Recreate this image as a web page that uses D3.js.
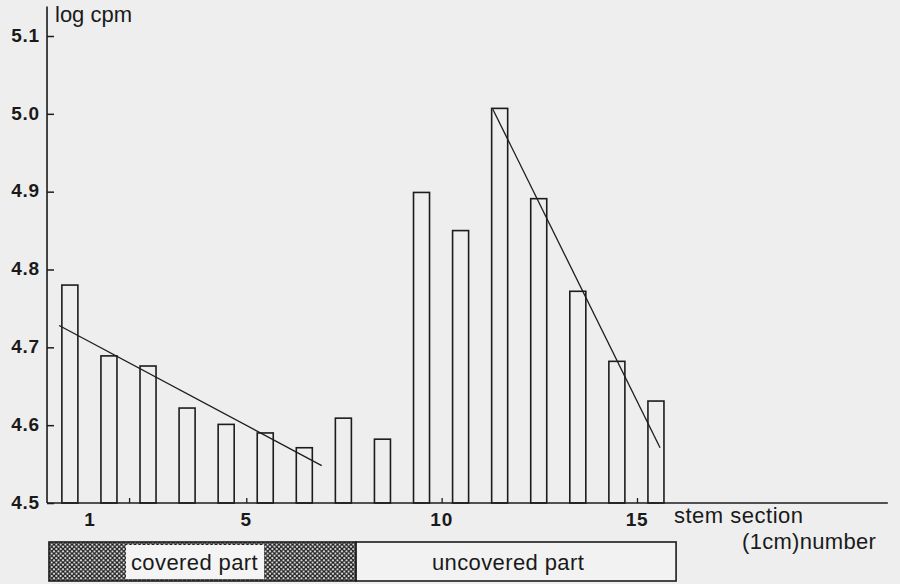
<!DOCTYPE html>
<html>
<head>
<meta charset="utf-8">
<script src="https://cdn.jsdelivr.net/npm/d3@7"></script>
<style>
  body { margin: 0; background: #eeeeee; }
  svg { display: block; font-family: "Liberation Sans", Arial, sans-serif; }
  .tick-label { font-weight: bold; font-size: 19px; fill: #1a1a1a; letter-spacing: 0.8px; }
  .label { font-size: 22px; fill: #1a1a1a; }
</style>
</head>
<body>
<svg id="chart"></svg>
<script>
// stem sections (1 cm each) and measured log cpm
const sections = [1, 2, 3, 4, 5, 6, 7, 8, 9, 10, 11, 12, 13, 14, 15, 16];
const logCpm = [4.780, 4.689, 4.676, 4.622, 4.601, 4.590, 4.571, 4.609,
                4.582, 4.899, 4.850, 5.007, 4.891, 4.772, 4.682, 4.631];

const yTicks = [4.5, 4.6, 4.7, 4.8, 4.9, 5.0, 5.1];
const xTickMarks = [2, 5, 10, 15];
const xTickLabels = [1, 5, 10, 15];

// fitted lines drawn on the original figure: [section, log cpm]
const fitCovered = [[0.21, 4.728], [6.93, 4.548]];
const fitUncovered = [[11.31, 5.006], [15.59, 4.571]];

// bottom band: which sections were covered
const parts = [
  {name: 'covered part', from: -0.05, to: 7.81, hatched: true},
  {name: 'uncovered part', from: 7.81, to: 16.0, hatched: false}
];

class StemChart {
  constructor(_config) {
    this.config = {
      parentElement: _config.parentElement,
      containerWidth: _config.containerWidth || 900,
      containerHeight: _config.containerHeight || 584
    };
    this.initVis();
  }

  initVis() {
    let vis = this;

    vis.svg = d3.select(vis.config.parentElement)
      .attr('width', vis.config.containerWidth)
      .attr('height', vis.config.containerHeight);

    // section positions: label of section 1 at 90px, 15 at 637px
    vis.xScale = d3.scaleLinear().domain([1, 15]).range([90, 637]);
    vis.yScale = d3.scaleLinear().domain([4.5, 5.1]).range([503, 36]);

    vis.ink = '#1c1c1c';

    let defs = vis.svg.append('defs');
    let pat = defs.append('pattern')
      .attr('id', 'hatch')
      .attr('patternUnits', 'userSpaceOnUse')
      .attr('width', 4.5)
      .attr('height', 4.5);
    pat.append('rect').attr('width', 4.5).attr('height', 4.5).attr('fill', '#f4f4f4');
    pat.append('path')
      .attr('d', 'M0,0L4.5,4.5M4.5,0L0,4.5')
      .attr('stroke', vis.ink)
      .attr('stroke-width', 1.3);

    vis.renderVis();
  }

  renderVis() {
    let vis = this;
    let x = vis.xScale, y = vis.yScale;

    // bars: each one sits in the left part of its section
    vis.svg.selectAll('.bar')
      .data(sections)
      .join('rect')
      .attr('class', 'bar')
      .attr('x', d => x(d - 0.72))
      .attr('width', x(0.41) - x(0))
      .attr('y', (d, i) => y(logCpm[i]))
      .attr('height', (d, i) => y(4.5) - y(logCpm[i]))
      .attr('fill', 'none')
      .attr('stroke', vis.ink)
      .attr('stroke-width', 1.6);

    // y axis
    let yAxis = d3.axisRight(y).tickValues(yTicks).tickSize(7).tickFormat('');
    let yAxisG = vis.svg.append('g')
      .attr('transform', `translate(${x(-0.1)},0)`)
      .call(yAxis);
    yAxisG.select('.domain').remove();
    yAxisG.selectAll('line').attr('stroke', vis.ink).attr('stroke-width', 1.5);
    yAxisG.append('line')
      .attr('y1', y(5.138)).attr('y2', y(4.5))
      .attr('stroke', vis.ink).attr('stroke-width', 1.6);

    vis.svg.selectAll('.y-label')
      .data(yTicks)
      .join('text')
      .attr('class', 'tick-label y-label')
      .attr('x', 40)
      .attr('y', d => y(d))
      .attr('dy', '0.3em')
      .attr('text-anchor', 'end')
      .text(d => d3.format('.1f')(d));

    vis.svg.append('text')
      .attr('class', 'label')
      .attr('x', 55).attr('y', 22)
      .text('log cpm');

    // x axis
    let xAxis = d3.axisTop(x).tickValues(xTickMarks).tickSize(5).tickFormat('');
    let xAxisG = vis.svg.append('g')
      .attr('transform', `translate(0,${y(4.5)})`)
      .call(xAxis);
    xAxisG.select('.domain').remove();
    xAxisG.selectAll('line').attr('stroke', vis.ink).attr('stroke-width', 1.3);
    xAxisG.append('line')
      .attr('x1', x(-0.1)).attr('x2', x(21.42))
      .attr('stroke', vis.ink).attr('stroke-width', 1.4);

    vis.svg.selectAll('.x-label')
      .data(xTickLabels)
      .join('text')
      .attr('class', 'tick-label x-label')
      .attr('x', d => x(d))
      .attr('y', 526)
      .attr('text-anchor', 'middle')
      .text(d => d);

    vis.svg.append('text')
      .attr('class', 'label')
      .attr('x', 674).attr('y', 523)
      .attr('letter-spacing', 0.5)
      .text('stem section');
    vis.svg.append('text')
      .attr('class', 'label')
      .attr('x', 742).attr('y', 549)
      .attr('letter-spacing', 0.3)
      .text('(1cm)number');

    // fitted lines
    let line = d3.line().x(d => x(d[0])).y(d => y(d[1]));
    vis.svg.selectAll('.fit')
      .data([fitCovered, fitUncovered])
      .join('path')
      .attr('class', 'fit')
      .attr('d', line)
      .attr('fill', 'none')
      .attr('stroke', vis.ink)
      .attr('stroke-width', 1.3);

    // covered / uncovered band
    let band = vis.svg.selectAll('.part')
      .data(parts)
      .join('g')
      .attr('class', 'part');
    band.append('rect')
      .attr('x', d => x(d.from))
      .attr('width', d => x(d.to) - x(d.from))
      .attr('y', 542)
      .attr('height', 39)
      .attr('fill', d => d.hatched ? 'url(#hatch)' : '#f2f2f2')
      .attr('stroke', vis.ink)
      .attr('stroke-width', 1.6);
    band.filter(d => d.hatched).append('rect')
      .attr('x', 126).attr('width', 138)
      .attr('y', 545).attr('height', 34)
      .attr('fill', '#f4f4f4');
    band.append('text')
      .attr('class', 'label')
      .attr('x', d => (x(d.from) + x(d.to)) / 2 - 8)
      .attr('y', 570)
      .attr('text-anchor', 'middle')
      .attr('letter-spacing', 0.4)
      .text(d => d.name);
  }
}

new StemChart({parentElement: '#chart'});
</script>
</body>
</html>
